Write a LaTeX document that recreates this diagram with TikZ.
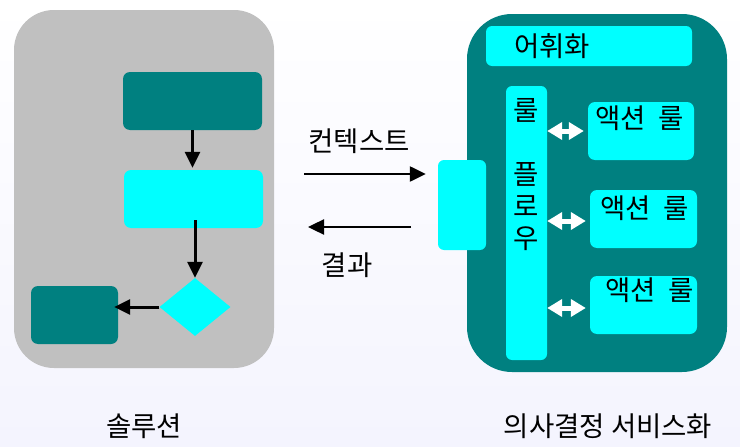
\documentclass[tikz,border=0pt]{standalone}
\usepackage{fontspec}
\setmainfont{Noto Sans CJK KR}
\usetikzlibrary{shapes.geometric,arrows.meta,calc}
\definecolor{teal}{HTML}{008080}
\definecolor{aqua}{HTML}{00FFFF}
\definecolor{grayb}{HTML}{C0C0C0}
\definecolor{bgbot}{HTML}{F4F4FE}
\tikzset{
  panel/.style={rounded corners=#1, inner sep=0pt},
  tealbox/.style={fill=teal, rounded corners=7pt, inner sep=0pt},
  aquabox/.style={fill=aqua, rounded corners=7pt, inner sep=0pt},
  lbl/.style={font=\fontsize{27.5}{32}\selectfont, inner sep=0pt, text=black},
  flowarr/.style={line width=3pt, -{Triangle[length=16pt,width=15pt]}},
  ctxarr/.style={line width=2.4pt, -{Triangle[length=16pt,width=15pt]}},
  dblarr/.style={draw=white, line width=5pt, {Triangle[length=15pt,width=17pt]}-{Triangle[length=15pt,width=17pt]}},
}
\begin{document}
\begin{tikzpicture}[x=1pt,y=-1pt]
\useasboundingbox (0,0) rectangle (740,447);
\shade[top color=white, bottom color=bgbot] (0,0) rectangle (740,447);
% left panel
\node[panel=40pt, fill=grayb, minimum width=260pt, minimum height=358pt] (G) at (144,189) {};
\node[tealbox, minimum width=139pt, minimum height=58pt] (A) at (192.5,101) {};
\node[aquabox, minimum width=139pt, minimum height=58pt] (B) at (193.5,199) {};
\node[diamond, fill=aqua, inner sep=0pt, minimum width=71pt, minimum height=58pt] (D) at (195,307) {};
\node[tealbox, minimum width=87pt, minimum height=58pt] (E) at (74.5,315) {};
\draw[flowarr] (A.south) -- ([yshift=2pt]A.south |- B.north);
\draw[flowarr] ([yshift=8pt]B.south -| D.north) -- (D.north);
\draw[flowarr] (D.west) -- ([xshift=-4pt]D.west -| E.east);
% right panel
\node[panel=45pt, fill=teal, minimum width=260pt, minimum height=358pt] (T) at (597,193) {};
\node[aquabox, rounded corners=6pt, minimum width=206pt, minimum height=40pt] (V) at (589,46) {};
\node[lbl] (Vt) at (552,46) {어휘화};
\node[aquabox, rounded corners=6pt, minimum width=41pt, minimum height=274pt] (R) at (526.5,223) {};
\node[lbl, align=center] (Rt) at (526.5,175) {룰\\\strut\\플\\로\\우};
\node[aquabox, minimum width=106pt, minimum height=58pt] (AR1) at (641,131) {};
\node[aquabox, minimum width=107pt, minimum height=58pt] (AR2) at (643.5,219) {};
\node[aquabox, minimum width=107pt, minimum height=58pt] (AR3) at (643.5,305) {};
\node[lbl, anchor=west] (t1) at (595,118) {액션\hspace{0.45em}룰};
\node[lbl, anchor=west] (t2) at (600,208) {액션\hspace{0.45em}룰};
\node[lbl, anchor=west] (t3) at (605,290) {액션\hspace{0.45em}룰};
\draw[dblarr] (AR1.west -| R.east) -- ([xshift=-4pt]AR1.west);
\draw[dblarr] ([yshift=-2pt]AR2.west -| R.east) -- ([xshift=-4pt,yshift=-2pt]AR2.west);
\draw[dblarr] ([yshift=-3pt]AR3.west -| R.east) -- ([xshift=-4pt,yshift=-3pt]AR3.west);
\node[aquabox, rounded corners=6pt, minimum width=48pt, minimum height=90pt] (L) at (462,205) {};
% context arrows
\coordinate (c1) at (304,174);
\coordinate (c2) at (411,227);
\coordinate (c2e) at (308,227);
\draw[ctxarr] (c1) -- ([xshift=-12pt]c1 -| L.west);
\draw[ctxarr] (c2) -- (c2e);
\node[lbl] (ctx) at (359,141) {컨텍스트};
\node[lbl] (res) at (347,265) {결과};
\node[lbl] (sol) at (144,426) {솔루션};
\node[lbl] (svc) at (608,426) {의사결정 서비스화};
\end{tikzpicture}
\end{document}
